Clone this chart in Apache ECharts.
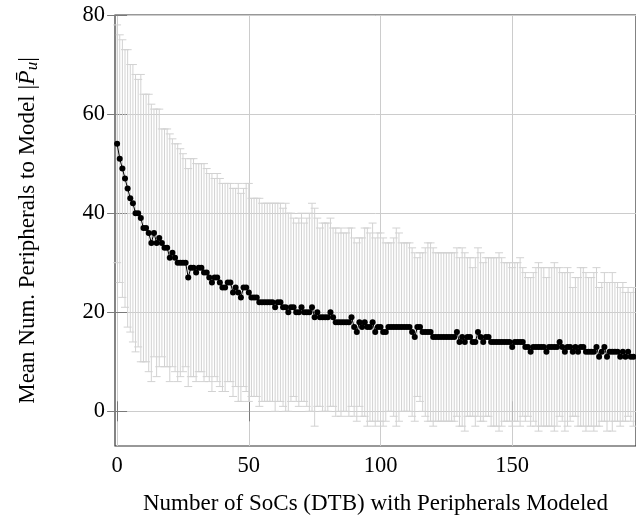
<!DOCTYPE html>
<html><head><meta charset="utf-8">
<script src="https://cdn.jsdelivr.net/npm/echarts@6/dist/echarts.min.js"></script>
<style>html,body{margin:0;padding:0;background:#fff}#c{width:636px;height:517px}</style>
</head><body><div id="c"></div>
<script>
// Mean number of peripherals to model, per number of SoCs (index 0..196)
const meanValues = [
 54,51,49,47,45,43,42,40,40,39,
 37,37,36,34,36,34,35,34,33,33,
 31,32,31,30,30,30,30,27,29,29,
 28,29,29,28,28,27,26,27,27,26,
 25,25,26,26,24,25,24,23,25,25,
 24,23,23,23,22,22,22,22,22,22,
 21,22,22,21,21,20,21,21,20,20,
 21,20,20,20,21,19,20,19,19,19,
 19,20,19,18,18,18,18,18,18,19,
 17,16,18,17,18,17,17,18,16,17,
 17,16,16,17,17,17,17,17,17,17,
 17,17,16,15,17,17,16,16,16,16,
 15,15,15,15,15,15,15,15,15,16,
 14,15,14,15,15,14,14,16,15,14,
 15,15,14,14,14,14,14,14,14,14,
 13,14,14,14,14,13,13,12,13,13,
 13,13,13,12,13,13,13,13,14,13,
 12,13,13,12,13,12,13,13,12,12,
 12,12,13,11,12,13,11,12,12,12,
 12,11,12,11,12,11,11
];
// Standard deviation (error bar half-length)
const stdValues = [
 24,25,26,26,28,27,28,28,27,29,
 27,27,28,28,25,27,26,23,24,24,
 25,23,23,24,23,22,21,22,22,22,
 22,21,21,22,21,21,22,20,21,21,
 21,21,20,20,21,20,22,21,20,21,
 22,20,20,20,21,20,20,20,20,20,
 21,20,20,20,21,20,19,18,18,19,
 19,18,19,20,21,22,19,18,19,19,
 19,19,18,19,18,19,18,18,19,18,
 18,18,17,18,19,20,19,20,19,19,
 19,19,18,17,17,18,20,19,17,17,
 17,17,17,17,14,15,16,17,18,18,
 18,17,17,17,17,17,17,17,17,17,
 17,18,18,16,16,15,17,17,17,16,
 16,16,17,17,17,18,17,16,16,16,
 16,16,16,17,15,15,14,15,15,16,
 17,16,16,15,16,16,17,16,15,15,
 16,16,15,13,14,15,16,16,16,15,
 15,16,16,14,14,15,15,14,16,14,
 14,14,14,13,13,13,14
];
const xTickValues = [0, 50, 100, 150];
const yTickValues = [0, 20, 40, 60, 80];
const xTitle = 'Number of SoCs (DTB) with Peripherals Modeled';
const yTitle = 'Mean Num. Peripherals to Model |{it|P\u0304}{sub|u}|';

const FONT = 'Liberation Serif';
const xIdx = meanValues.map((_, i) => i);
const lineData = xIdx.map(i => [i, meanValues[i]]);
const errData = xIdx.map(i => [i, meanValues[i], stdValues[i]]);

const chart = echarts.init(document.getElementById('c'), null, {renderer: 'canvas'});
const tickStyle = {show: true, inside: true, length: 10, lineStyle: {color: '#7a7a7a', width: 1}};
const gridLine = {show: true, lineStyle: {color: '#cccccc', width: 1}};
const labelStyle = {fontFamily: FONT, fontSize: 22.5, color: '#000'};

chart.setOption({
  animation: false,
  backgroundColor: '#fff',
  grid: {left: 115, right: 0, top: 15, bottom: 71, show: true, borderColor: '#333', borderWidth: 1.2,
         containLabel: false, outerBoundsMode: 'none'},
  xAxis: [{
    type: 'value', position: 'bottom', min: -0.8, max: 197,
    axisLine: {show: false},
    axisTick: Object.assign({customValues: xTickValues}, tickStyle),
    axisLabel: Object.assign({customValues: xTickValues, margin: 9}, labelStyle),
    splitLine: gridLine,
    name: xTitle, nameLocation: 'middle', nameGap: 46,
    nameTextStyle: {fontFamily: FONT, fontSize: 23, color: '#000'}
  }, {
    type: 'value', position: 'top', min: -0.8, max: 197,
    axisLine: {show: false},
    axisTick: Object.assign({customValues: xTickValues}, tickStyle),
    axisLabel: {show: false}, splitLine: {show: false}
  }],
  yAxis: [{
    type: 'value', position: 'left', min: -7, max: 80,
    axisLine: {show: false},
    axisTick: Object.assign({customValues: yTickValues}, tickStyle),
    axisLabel: Object.assign({customValues: yTickValues, margin: 10}, labelStyle),
    splitLine: gridLine,
    name: yTitle, nameLocation: 'middle', nameGap: 74, nameRotate: 90,
    nameTextStyle: {fontFamily: FONT, fontSize: 23, color: '#000',
      rich: {
        it: {fontFamily: FONT, fontSize: 24, fontStyle: 'italic', color: '#000'},
        sub: {fontFamily: FONT, fontSize: 17, fontStyle: 'italic', color: '#000', verticalAlign: 'bottom', padding: [10, 0, 0, 0]}
      }}
  }, {
    type: 'value', position: 'right', min: -7, max: 80,
    axisLine: {show: false},
    axisTick: Object.assign({customValues: yTickValues}, tickStyle),
    axisLabel: {show: false}, splitLine: {show: false}
  }],
  series: [{
    type: 'custom',
    xAxisIndex: 0, yAxisIndex: 0,
    data: errData,
    encode: {x: 0, y: 1},
    z: 2,
    renderItem: function (params, api) {
      const x = api.value(0), m = api.value(1), e = api.value(2);
      const t = api.coord([x, m + e]);
      const b = api.coord([x, m - e]);
      const hw = 4;
      const st = {stroke: '#d2d2d2', lineWidth: 1, fill: null};
      return {type: 'group', children: [
        {type: 'line', shape: {x1: t[0], y1: t[1], x2: b[0], y2: b[1]}, style: st},
        {type: 'line', shape: {x1: t[0] - hw, y1: t[1], x2: t[0] + hw, y2: t[1]}, style: st},
        {type: 'line', shape: {x1: b[0] - hw, y1: b[1], x2: b[0] + hw, y2: b[1]}, style: st}
      ]};
    }
  }, {
    type: 'line',
    xAxisIndex: 0, yAxisIndex: 0,
    data: lineData,
    z: 5,
    symbol: 'circle', symbolSize: 6, showSymbol: true,
    itemStyle: {color: '#000'},
    lineStyle: {color: '#000', width: 1}
  }]
});
</script>
</body></html>
